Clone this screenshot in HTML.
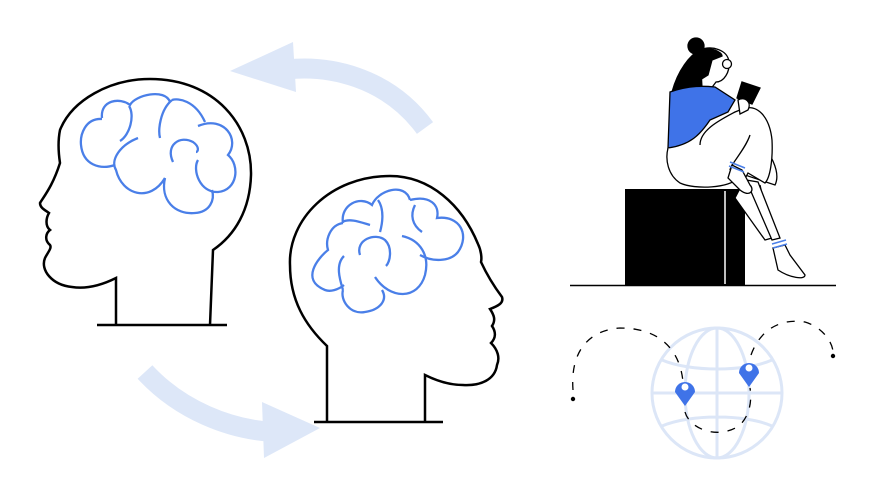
<!DOCTYPE html>
<html><head><style>html,body{margin:0;padding:0;background:#fff;width:877px;height:500px;overflow:hidden}</style></head>
<body>
<svg width="877" height="500" viewBox="0 0 877 500" xmlns="http://www.w3.org/2000/svg">
<g fill="none" stroke-linecap="butt">
<path d="M425,128 C390,80 330,60 270,72" stroke="#dde7f8" stroke-width="20"/>
<polygon points="230,71 293,42 296,92" fill="#dde7f8"/>
<path d="M145,372 C180,410 230,430 275,432" stroke="#dde7f8" stroke-width="20"/>
<polygon points="320,428 262,402 264,458" fill="#dde7f8"/>

<!-- left head -->
<path d="M116,325 L116,278 C100,286 85,289 72,287 C52,285 40,270 45,258 C48,252 52,248 50,245 C44,240 46,233 50,230 C45,226 46,218 49,213 C45,210 40,208 40,203 C45,195 53,185 60,163 C58,150 58,140 60,130 C72,100 110,79 150,79 C215,79 252,125 251,175 C250,210 235,235 213,250 L210,325" stroke="#000" stroke-width="2.5"/>
<path d="M97,325 L227,325" stroke="#000" stroke-width="2.5"/>
<g stroke="#4a7fe8" stroke-width="2.3">
<path d="M102,119 C85,118 80,135 81,145 C83,165 100,170 115,165"/>
<path d="M102,118 C100,100 120,97 130,105 C135,95 165,88 170,102"/>
<path d="M129,106 C135,115 130,135 120,141"/>
<path d="M138,138 C120,145 110,160 116,170 C122,195 150,203 165,178"/>
<path d="M165,178 C160,200 175,215 195,213 C210,212 215,200 212,190"/>
<path d="M172,100 C178,98 195,100 205,122"/>
<path d="M172,100 C160,110 158,130 160,138"/>
<path d="M198,126 C225,115 240,140 228,155 C240,165 238,190 218,192 C200,193 192,170 198,160"/>
<path d="M173,162 C165,145 180,135 193,142 C200,147 198,152 196,152"/>
</g>

<!-- right head -->
<path d="M327,422 L327,346 C305,325 290,300 290,265 C288,220 330,176 390,176 C430,176 462,205 478,244 C481,250 482,258 481,262 C487,275 493,285 502,297 C504,303 498,306 490,309 C494,315 496,320 492,326 C496,332 496,338 491,343 C498,350 500,358 497,365 C495,380 480,386 463,385 C450,385 437,381 425,375 L425,422" stroke="#000" stroke-width="2.5"/>
<path d="M314,422 L443,422" stroke="#000" stroke-width="2.5"/>
<g stroke="#4a7fe8" stroke-width="2.3">
<path d="M343,223 C330,225 325,240 328,250 C318,258 300,280 325,290 C330,292 338,290 344,285"/>
<path d="M343,223 C340,205 360,195 372,205 C378,190 405,182 410,200"/>
<path d="M342,222 C350,218 360,222 370,225"/>
<path d="M360,255 C355,240 375,232 385,240 C393,248 390,262 386,266"/>
<path d="M378,200 C385,210 382,225 380,232"/>
<path d="M343,290 C340,300 350,315 365,312 C380,310 388,300 382,290"/>
<path d="M344,256 C335,265 340,280 343,290"/>
<path d="M410,200 C430,195 440,205 437,218 C460,215 470,235 458,252 C450,262 432,262 420,255"/>
<path d="M415,205 C410,215 412,225 422,232"/>
<path d="M402,236 C420,240 430,255 425,275 C418,300 390,300 375,277"/>
</g>

<rect x="625" y="189" width="120" height="96" fill="#000"/>
<path d="M725,191 L725,284" stroke="#fff" stroke-width="1.5"/>
<path d="M570,285.5 L836,285.5" stroke="#000" stroke-width="1.5"/>

<g stroke="#000" stroke-width="1.3">
<circle cx="696" cy="46" r="8" fill="#000"/>
<path d="M700,50 C690,55 678,70 672,92 L705,86 Z" fill="#000"/>
<path d="M700,50 C712,45 728,50 729,62 C730,72 724,82 716,82 L710,90 L702,88 Z" fill="#fff"/>
<path d="M700,50 C710,46 722,52 722,56 L712,60 L708,75 L700,80 Z" fill="#000"/>
<circle cx="727" cy="64" r="4.5" fill="#fff"/>
<path d="M670,92 C690,85 705,86 715,87 L735,100 L728,112 L710,120 C700,135 690,145 668,148 Z" fill="#3f73e8"/>
<path d="M668,148 C665,160 668,175 680,183 C695,190 730,188 738,178 L760,140 C775,160 780,175 775,185 L730,170" fill="#fff"/>
<path d="M700,145 C700,130 720,120 735,112 L745,108 C760,105 770,120 772,140 C773,160 770,178 765,183 L748,173 L735,198 L765,240 L772,238 L760,185" fill="#fff"/>
<path d="M750,135 C745,150 730,165 730,170"/>
<path d="M742,82 L760,88 L752,104 L737,98 Z" fill="#000"/>
<path d="M738,100 C745,96 752,102 748,110 L740,114 Z" fill="#fff"/>
<path d="M746,180 L772,240 L780,238 L758,182 Z" fill="#fff"/>
<path d="M732,165 L728,178 L740,190 C750,198 755,190 750,185 L742,170 Z" fill="#fff"/>
<path d="M773,248 L778,270 C790,278 805,280 805,275 L790,255 L785,245 Z" fill="#fff"/>
</g>
<g stroke="#4a7fe8" stroke-width="1.5">
<path d="M730,162 L745,168 M729,166 L744,172"/>
<path d="M772,244 L786,240 M773,248 L787,244"/>
</g>

<g stroke="#dce6f7" stroke-width="3">
<circle cx="717" cy="393" r="65"/>
<ellipse cx="717" cy="393" rx="32" ry="65"/>
<path d="M717,328 L717,458 M652,393 L782,393 M662,360 C690,372 745,372 772,360 M662,426 C690,414 745,414 772,426"/>
</g>
<g stroke="#000" stroke-width="1.3" stroke-dasharray="8,9">
<path d="M573,390 C570,350 590,330 620,328 C660,328 680,350 683,382"/>
<path d="M685,412 C690,430 720,440 740,425 C750,415 752,400 750,388"/>
<path d="M751,355 C760,330 780,318 805,322 C825,328 833,345 833,352"/>
</g>
<circle cx="573" cy="399" r="2.2" fill="#000"/>
<circle cx="833" cy="356" r="2.2" fill="#000"/>
<g fill="#3f73e8">
<path d="M685,406 L675,392 A10,10 0 1 1 695,392 Z"/>
<path d="M749,387 L739,373 A10,10 0 1 1 759,373 Z"/>
</g>
<circle cx="685" cy="387" r="3.5" fill="#fff"/>
<circle cx="749" cy="368" r="3.5" fill="#fff"/>
</g>
</svg>
</body></html>
